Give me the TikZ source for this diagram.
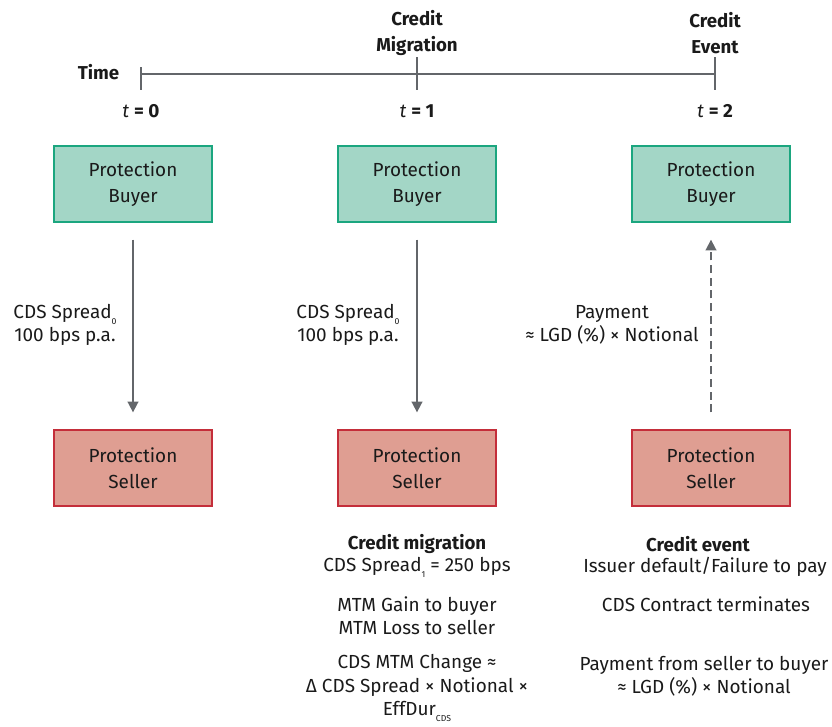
\documentclass[tikz,border=0pt]{standalone}
\usepackage{fontspec}
\setmainfont{Fira Sans}
\usetikzlibrary{arrows.meta}

\definecolor{buyerfill}{HTML}{A3D6C6}
\definecolor{buyerline}{HTML}{1BA67F}
\definecolor{sellerfill}{HTML}{DF9E92}
\definecolor{sellerline}{HTML}{C42E3A}
\definecolor{axisgray}{HTML}{63666A}
\definecolor{textdark}{HTML}{1A1A1A}

\tikzset{
  party/.style={draw, line width=1.5pt, minimum width=119pt, minimum height=57pt,
    align=center, text=textdark, font=\fontsize{14.2}{19.5}\selectfont},
  buyer/.style={party, fill=buyerfill, draw=buyerline},
  seller/.style={party, fill=sellerfill, draw=sellerline},
  flow/.style={draw=axisgray, line width=1.3pt, -{Triangle[length=8pt,width=8pt]},
    shorten <=12.5pt, shorten >=12.5pt},
  txt/.style={align=center, text=textdark, font=\fontsize{14.2}{17.5}\selectfont},
  hdr/.style={align=center, text=textdark, font=\fontsize{14}{19}\selectfont\bfseries},
  tick/.style={draw=axisgray, line width=1.3pt}
}
\newcommand{\sub}[1]{\raisebox{-0.6ex}{\fontsize{6.5}{6.5}\selectfont #1}}

\begin{document}
\begin{tikzpicture}[x=0.75pt,y=-0.75pt]
\useasboundingbox (0,0) rectangle (832,726);

% time axis
\coordinate (t0top) at (141,67);
\coordinate (t0bot) at (141,90);
\coordinate (t1top) at (417,57);
\coordinate (t1bot) at (417,90);
\coordinate (t2top) at (715,57);
\coordinate (t2bot) at (715,90);
\coordinate (t0mid) at (141,74);
\coordinate (t2mid) at (715,74);
\draw[tick] (t0mid) -- (t2mid);
\draw[tick] (t0top) -- (t0bot);
\draw[tick] (t1top) -- (t1bot);
\draw[tick] (t2top) -- (t2bot);
\node[hdr, anchor=east] (timelbl) at (124,72) {Time};
\node[hdr] (migr) at (417,33) {Credit\\Migration};
\node[hdr] (event) at (715,33) {Credit\\Event};
\node[txt] (tzero) at (141,111) {\textit{t} \textbf{= 0}};
\node[txt] (tone) at (417,111) {\textit{t} \textbf{= 1}};
\node[txt] (ttwo) at (715,111) {\textit{t} \textbf{= 2}};

% parties
\node[buyer] (buyer0) at (133,184) {Protection\\Buyer};
\node[buyer] (buyer1) at (417,184) {Protection\\Buyer};
\node[buyer] (buyer2) at (711,184) {Protection\\Buyer};
\node[seller] (seller0) at (133,468) {Protection\\Seller};
\node[seller] (seller1) at (417,468) {Protection\\Seller};
\node[seller] (seller2) at (711,468) {Protection\\Seller};

% flows
\draw[flow] (buyer0) -- (seller0);
\draw[flow] (buyer1) -- (seller1);
\draw[flow, dashed, dash pattern=on 6pt off 3.5pt] (seller2) -- (buyer2);
\node[txt] (spread0) at (65,325) {CDS Spread\sub{0}\\100 bps p.a.};
\node[txt] (spread1) at (348,325) {CDS Spread\sub{0}\\100 bps p.a.};
\node[txt] (payment) at (612,325) {Payment\\≈ LGD (\%) × Notional};

% notes below
\node[hdr] (cmhead) at (417,544) {Credit migration};
\node[txt] (cmline) at (417,567) {CDS Spread\sub{1} = 250 bps};
\node[txt] (cmgain) at (417,616) {MTM Gain to buyer\\MTM Loss to seller};
\node[txt] (cmchg) at (417,688) {CDS MTM Change ≈\\Δ CDS Spread × Notional ×\\EffDur\sub{CDS}};

\node[hdr] (cehead) at (698,544) {Credit event};
\node[txt] (celine) at (705,567) {Issuer default/Failure to pay};
\node[txt] (ceterm) at (706,604) {CDS Contract terminates};
\node[txt] (cepay) at (704,676) {Payment from seller to buyer\\≈ LGD (\%) × Notional};
\end{tikzpicture}
\end{document}
